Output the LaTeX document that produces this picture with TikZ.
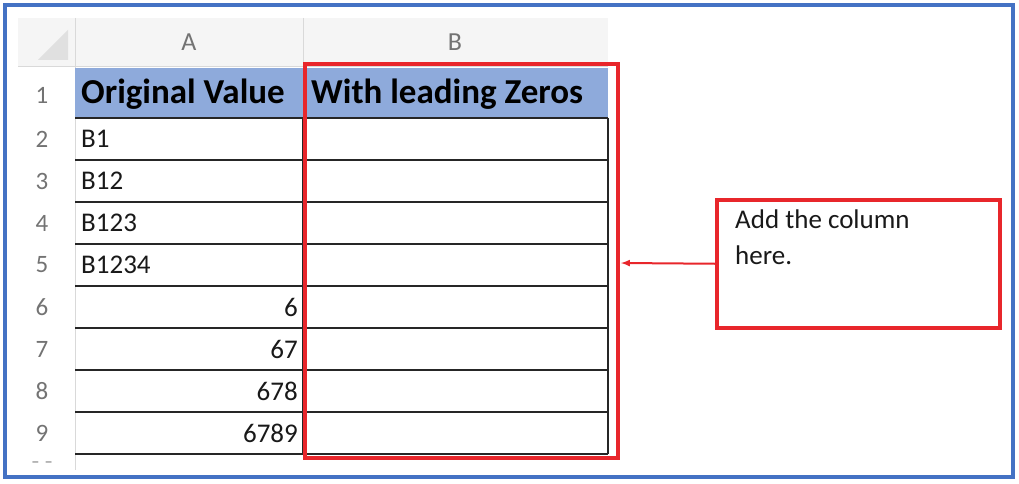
\documentclass[tikz,border=0pt]{standalone}
\usepackage{fontspec}
\setmainfont{Carlito}
\usetikzlibrary{positioning}
\definecolor{hdrblue}{HTML}{8EAADB}
\definecolor{frameblue}{HTML}{4472C4}
\definecolor{callred}{HTML}{E8262B}
\definecolor{gridgray}{HTML}{D9D9D9}
\tikzset{
  rownum/.style={text=black!55, font=\fontsize{25}{27}\selectfont},
  cell/.style={text=black!90, font=\fontsize{27}{30}\selectfont, inner sep=0pt},
  hdr/.style={font=\bfseries\fontsize{35}{38}\selectfont, inner sep=0pt},
}
\begin{document}
\begin{tikzpicture}[x=1pt, y=-1pt]
	\useasboundingbox (0,0) rectangle (1019,484);
	% outer frame
	\draw[frameblue, line width=3.5pt] (5,5) rectangle (1013,477);

	% column headers
	\fill[black!4] (18,18) rectangle (608,66);
	\fill[black!12] (68,30) -- (68,60) -- (38,60) -- cycle;
	\draw[gridgray] (75,18) -- (75,470);
	\draw[gridgray] (303,18) -- (303,66);
	\draw[gridgray] (18,66) -- (608,66);
	\node[rownum, font=\fontsize{26}{28}\selectfont] (colA) at (189,42) {A};
	\node[rownum, font=\fontsize{26}{28}\selectfont] (colB) at (455,42) {B};

	% header row
	\fill[hdrblue] (75,68) rectangle (608,118);
	\node[hdr, anchor=west] (h1) at (81,94) {Original Value};
	\node[hdr, anchor=west] (h2) at (311,94) {With leading Zeros};
	\node[rownum] (r1) at (42,95) {1};

	% body rows
	\foreach \i/\v/\a in {2/B1/w,3/B12/w,4/B123/w,5/B1234/w,6/6/e,7/67/e,8/678/e,9/6789/e}{
		\pgfmathsetmacro{\yc}{118+42*(\i-2)+21}
		\node[rownum] (r\i) at (42,\yc) {\i};
		\if\a w
			\node[cell, anchor=west] (v\i) at (81,\yc) {\v};
		\else
			\node[cell, anchor=east] (v\i) at (298,\yc) {\v};
		\fi
		\draw[black!85, line width=2.2pt] (75,\yc+21) -- (608,\yc+21);
	}
	\draw[black!85, line width=2.2pt] (75,118) -- (608,118);
	\draw[black!85, line width=2pt] (303,118) -- (303,454);
	\draw[black!85, line width=2pt] (608,118) -- (608,454);
	\node[rownum, text=black!30] (r10) at (42,466) {- -};

	% highlight and callout
	\draw[callred, line width=3.5pt] (305,64) rectangle (618,458);
	\coordinate (hl) at (621,263);
	\node[draw=callred, line width=3.5pt, minimum width=283pt, minimum height=128pt,
	      anchor=north west] (call) at (715,198) {};
	\node[cell, anchor=north west, align=left] (calltxt) at (735,210) {Add the column\\[6pt]here.};
	\draw[callred, line width=2pt, ->, >=latex] (call.west) -- (hl);
\end{tikzpicture}
\end{document}
